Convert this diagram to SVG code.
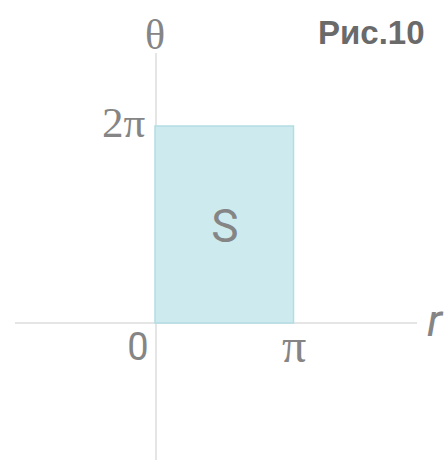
<svg xmlns="http://www.w3.org/2000/svg" width="445" height="460" viewBox="0 0 445 460">
<style>
.axis{stroke:#dcdcdc;stroke-width:1.5;fill:none}
.serif{font-family:"Liberation Serif","DejaVu Serif",serif;fill:#858585}
.sans{font-family:Roboto,"Liberation Sans",sans-serif;fill:#858585}
</style>
<rect width="445" height="460" fill="#ffffff"/>
<g id="connectors">
<line class="axis" x1="15" y1="323" x2="417" y2="323"/>
<line class="axis" x1="156" y1="53" x2="156" y2="460"/>
</g>
<g id="region">
<rect x="155" y="126" width="138.5" height="197" fill="#cdebee" stroke="#b2dde3" stroke-width="1.5"/>
<text class="sans" x="225" y="242" font-size="46" text-anchor="middle">S</text>
</g>
<g id="labels">
<text class="serif" x="155" y="49" font-size="42" text-anchor="middle">θ</text>
<text class="serif" x="102" y="137" font-size="43">2π</text>
<text class="sans" x="138" y="360" font-size="38" text-anchor="middle">0</text>
<text class="serif" x="294" y="362" font-size="48" text-anchor="middle">π</text>
<text class="sans" x="427" y="336" font-size="46" font-style="italic">r</text>
<text x="318" y="44" font-family="Liberation Sans,Arial,sans-serif" font-weight="bold" font-size="33" fill="#6a6a6a">Рис.10</text>
</g>
</svg>
